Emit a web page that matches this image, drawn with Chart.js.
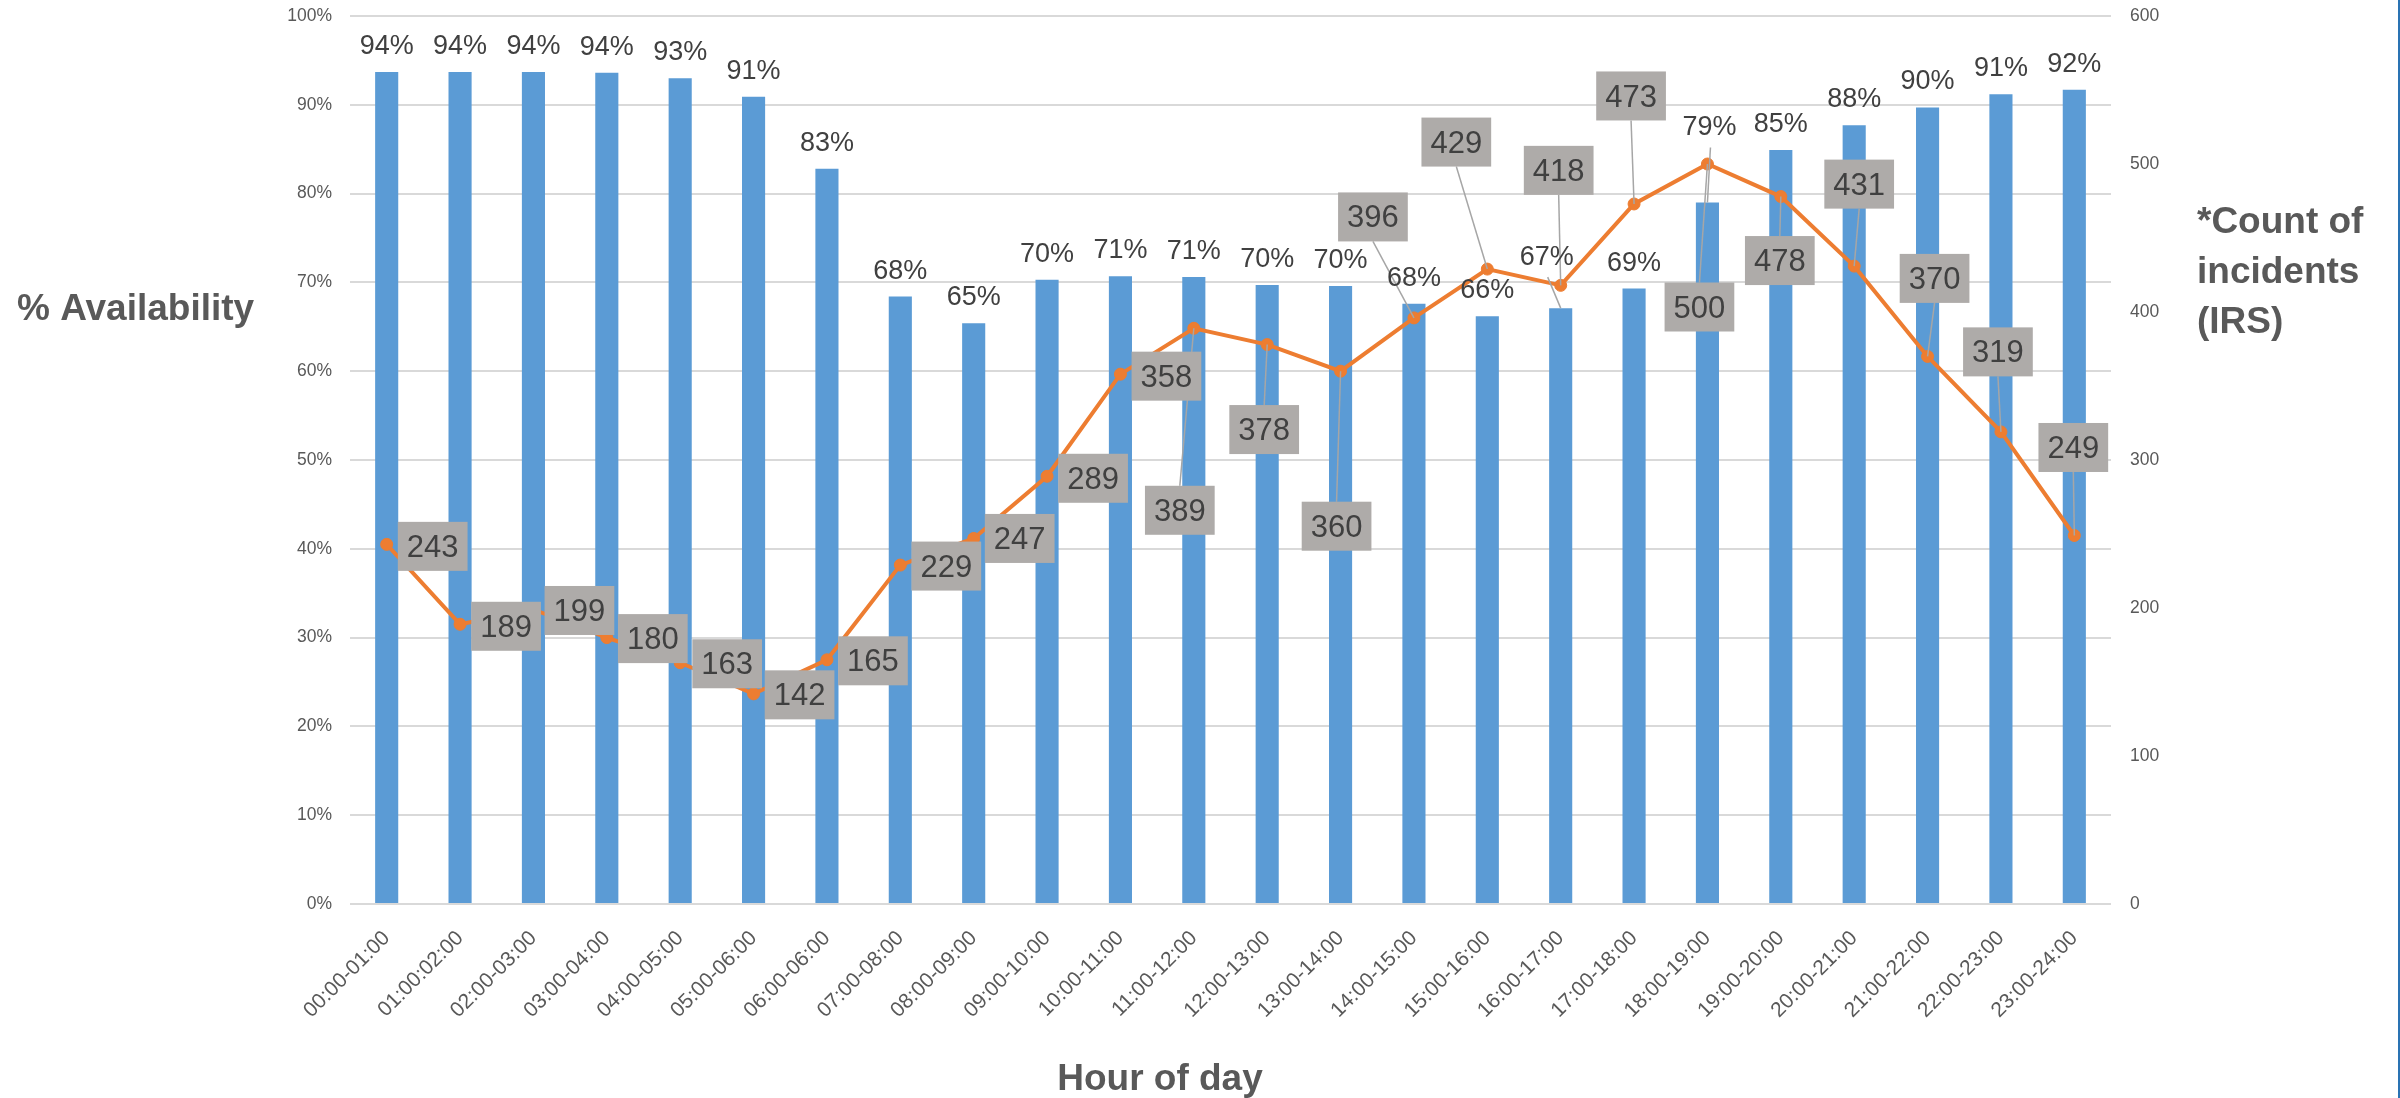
<!DOCTYPE html>
<html>
<head>
<meta charset="utf-8">
<title>Availability vs incidents by hour</title>
<script src="https://cdn.jsdelivr.net/npm/chart.js@4.4.1/dist/chart.umd.min.js"></script>
<style>
  html, body { margin: 0; padding: 0; background: #fff; }
  #wrap { width: 2400px; height: 1098px; }
</style>
</head>
<body>
<div id="wrap"><canvas id="chart" width="2400" height="1098"></canvas></div>
<script>
// hour buckets as written on the original axis (typos kept)
const hours = [
  "00:00-01:00", "01:00:02:00", "02:00-03:00", "03:00-04:00", "04:00-05:00", "05:00-06:00",
  "06:00-06:00", "07:00-08:00", "08:00-09:00", "09:00-10:00", "10:00-11:00", "11:00-12:00",
  "12:00-13:00", "13:00-14:00", "14:00-15:00", "15:00-16:00", "16:00-17:00", "17:00-18:00",
  "18:00-19:00", "19:00-20:00", "20:00-21:00", "21:00-22:00", "22:00-23:00", "23:00-24:00",
];

// % availability (bars, left axis)
const availability = [
  93.7, 93.7, 93.7, 93.6, 93.0, 90.9, 82.8, 68.4, 65.4, 70.3, 70.7, 70.6,
  69.7, 69.6, 67.6, 66.2, 67.1, 69.3, 79.0, 84.9, 87.7, 89.7, 91.2, 91.7,
];

// count of incidents (line, right axis)
const incidents = [
  243, 189, 199, 180, 163, 142, 165, 229, 247, 289, 358, 389,
  378, 360, 396, 429, 418, 473, 500, 478, 431, 370, 319, 249,
];

const pctTicks = { min: 0, max: 100, step: 10 };
const countTicks = { min: 0, max: 600, step: 100 };

// where the incident labels were dragged to, relative to their point (px)
const lineLabelShift = [
  [46, 2], [46, 2], [46, 1], [46, 1], [47, 1], [46, 1], [46, 1], [46, 1], [46, 0], [46, 2], [46, 2], [-14, 182],
  [-3, 85], [-4, 155], [-41, -101], [-31, -127], [-2, -115], [-3, -108], [-8, 143], [-1, 64], [5, -82], [7, -78], [-3, -80], [-1, -88],
];
// the two % labels that were moved off their bar
const barLabelShift = { 16: [-14, -25], 18: [2, -49] };

const GREY_TXT = "#595959";
const DARK_TXT = "#404040";
const FONT = '"Liberation Sans", Arial, sans-serif';

// draws the labels, leader lines and the free-standing axis titles
const labelsPlugin = {
  id: "labelsPlugin",
  afterDatasetsDraw(chart) {
    const ctx = chart.ctx;
    const bars = chart.getDatasetMeta(0).data;
    const pts = chart.getDatasetMeta(1).data;
    ctx.save();

    // leader lines first, under the boxes
    ctx.strokeStyle = "#A6A6A6";
    ctx.lineWidth = 1.5;
    pts.forEach((p, i) => {
      const [dx, dy] = lineLabelShift[i];
      if (Math.abs(dy) < 40) return;
      const cx = p.x + dx;
      const cy = p.y + dy;
      const ey = dy > 0 ? cy - 24.5 : cy + 24.5;
      ctx.beginPath();
      ctx.moveTo(cx, ey);
      ctx.lineTo(p.x, p.y);
      ctx.stroke();
    });
    Object.keys(barLabelShift).forEach((k) => {
      const b = bars[k];
      const [dx, dy] = barLabelShift[k];
      ctx.beginPath();
      ctx.moveTo(b.x + dx + 1, b.y - 18 + dy + 12);
      ctx.lineTo(b.x, b.y);
      ctx.stroke();
    });

    // % labels above the bars
    ctx.font = "27px " + FONT;
    ctx.fillStyle = DARK_TXT;
    ctx.textAlign = "center";
    ctx.textBaseline = "alphabetic";
    bars.forEach((b, i) => {
      const [dx, dy] = barLabelShift[i] || [0, 0];
      ctx.fillText(Math.round(availability[i]) + "%", b.x + dx, b.y - 18 + dy);
    });

    // grey boxes with incident counts
    ctx.font = "31px " + FONT;
    ctx.textBaseline = "middle";
    pts.forEach((p, i) => {
      const [dx, dy] = lineLabelShift[i];
      const txt = String(incidents[i]);
      const w = ctx.measureText(txt).width + 18;
      const h = 49;
      const cx = p.x + dx;
      const cy = p.y + dy;
      ctx.fillStyle = "#AEABA9";
      ctx.fillRect(cx - w / 2, cy - h / 2, w, h);
      ctx.fillStyle = DARK_TXT;
      ctx.fillText(txt, cx, cy + 2);
    });

    // axis titles
    ctx.font = "bold 37px " + FONT;
    ctx.fillStyle = GREY_TXT;
    ctx.textBaseline = "alphabetic";
    ctx.textAlign = "left";
    ctx.fillText("% Availability", 17, 320);
    ctx.fillText("*Count of", 2197, 233);
    ctx.fillText("incidents", 2197, 283);
    ctx.fillText("(IRS)", 2197, 333);
    ctx.textAlign = "center";
    ctx.fillText("Hour of day", 1160, 1090);

    // thin frame edge on the right
    ctx.strokeStyle = "#2A73B3";
    ctx.lineWidth = 2;
    ctx.beginPath();
    ctx.moveTo(2399, 0);
    ctx.lineTo(2399, 1098);
    ctx.stroke();
    ctx.restore();
  },
};

// fixed axis box sizes so the plot area lands where the original one is
function fixWidth(w) {
  return (s) => {
    s.width = w;
    s.paddingTop = 0;
    s.paddingBottom = 0;
  };
}

new Chart(document.getElementById("chart"), {
  type: "bar",
  data: {
    labels: hours,
    datasets: [
      {
        type: "bar",
        label: "% Availability",
        data: availability,
        yAxisID: "y",
        backgroundColor: "#5B9BD5",
        categoryPercentage: 1,
        barPercentage: 0.315,
        order: 2,
      },
      {
        type: "line",
        label: "Count of incidents",
        data: incidents,
        yAxisID: "y1",
        borderColor: "#ED7D31",
        borderWidth: 4,
        pointRadius: 6,
        pointBackgroundColor: "#ED7D31",
        pointBorderColor: "#ED7D31",
        pointBorderWidth: 1,
        tension: 0,
        order: 1,
      },
    ],
  },
  options: {
    responsive: false,
    animation: false,
    devicePixelRatio: 1,
    layout: { padding: { top: 16, left: 0, right: 0, bottom: 0 } },
    plugins: {
      legend: { display: false },
      tooltip: { enabled: false },
    },
    scales: {
      x: {
        grid: { display: false },
        border: { display: false },
        ticks: {
          autoSkip: false,
          maxRotation: 45,
          minRotation: 45,
          padding: 14,
          color: GREY_TXT,
          font: { family: FONT, size: 21 },
        },
        afterFit: (s) => {
          s.height = 194;
          s.paddingLeft = 0;
          s.paddingRight = 0;
        },
      },
      y: {
        position: "left",
        min: pctTicks.min,
        max: pctTicks.max,
        border: { display: false },
        grid: { color: "#D9D9D9", lineWidth: 2, drawTicks: false },
        ticks: {
          stepSize: pctTicks.step,
          padding: 18,
          color: GREY_TXT,
          font: { family: FONT, size: 17.5 },
          callback: (v) => v + "%",
        },
        afterFit: fixWidth(350),
      },
      y1: {
        position: "right",
        min: countTicks.min,
        max: countTicks.max,
        border: { display: false },
        grid: { drawOnChartArea: false, drawTicks: false },
        ticks: {
          stepSize: countTicks.step,
          padding: 19,
          color: GREY_TXT,
          font: { family: FONT, size: 17.5 },
        },
        afterFit: fixWidth(289),
      },
    },
  },
  plugins: [labelsPlugin],
});
</script>
</body>
</html>
